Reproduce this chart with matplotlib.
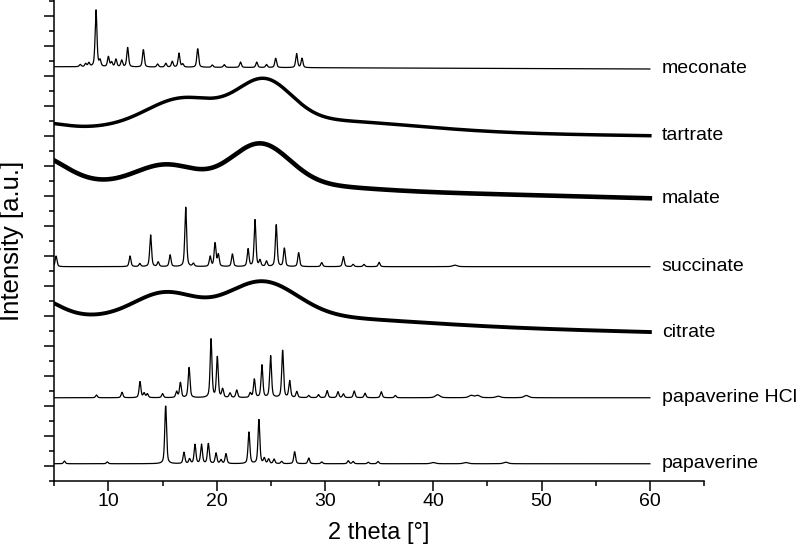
import numpy as np
import matplotlib
matplotlib.use("Agg")
import matplotlib.pyplot as plt
from matplotlib.ticker import FixedLocator

plt.rcParams['font.family'] = ['Liberation Sans', 'DejaVu Sans']

# 2 theta grid of the measurement
two_theta = np.arange(5.0, 60.0001, 0.02)

# crystalline patterns: peak positions [deg] and heights [a.u.], baseline level
papaverine_pos = [5.94, 9.9, 15.29, 16.98, 17.5, 18.0, 18.6, 19.23, 19.94, 20.4, 20.86,
                  22.98, 23.9, 24.4, 24.8, 25.3, 26.0, 27.2, 28.5, 29.7, 32.15, 32.6, 34.0, 34.9,
                  40.0, 43.0, 46.7]
papaverine_int = [0.18, 0.12, 3.87, 0.75, 0.3, 1.27, 1.27, 1.33, 0.7, 0.25, 0.66,
                  2.1, 2.93, 0.35, 0.3, 0.3, 0.15, 0.8, 0.38, 0.12, 0.2, 0.15, 0.1, 0.15,
                  0.08, 0.08, 0.1]
papaverine_base = 1.15

papaverine_hcl_pos = [8.9, 11.26, 12.92, 13.3, 13.6, 15.0, 16.3, 16.65, 17.45, 19.48, 20.06,
                      20.55, 21.23, 21.85, 23.1, 23.48, 24.18, 24.98, 26.09, 26.74, 27.4,
                      28.5, 29.4, 30.2, 31.2, 31.7, 32.7, 33.7, 35.2, 36.5,
                      40.4, 43.5, 44.1, 46.0, 48.6]
papaverine_hcl_int = [0.18, 0.36, 1.07, 0.3, 0.25, 0.27, 0.4, 1.0, 2.02, 3.89, 2.69,
                      0.56, 0.3, 0.5, 0.3, 1.22, 2.16, 2.78, 3.16, 1.11, 0.4,
                      0.15, 0.2, 0.47, 0.4, 0.25, 0.45, 0.3, 0.4, 0.15,
                      0.2, 0.15, 0.15, 0.1, 0.15]
papaverine_hcl_base = 5.55

succinate_pos = [5.17, 12.0, 12.9, 13.9, 14.6, 15.7, 17.14, 17.85, 19.4, 19.85, 20.15,
                 21.45, 22.9, 23.54, 24.0, 24.6, 25.5, 26.25, 27.57, 29.7, 31.7, 32.6,
                 33.6, 35.0, 42.0]
succinate_int = [0.71, 0.71, 0.2, 2.11, 0.3, 0.78, 3.96, 0.2, 0.67, 1.56, 0.78,
                 0.84, 1.16, 3.11, 0.4, 0.35, 2.78, 1.22, 0.93, 0.27, 0.67, 0.15,
                 0.15, 0.29, 0.1]
succinate_base = 14.29

meconate_pos = [7.4, 7.9, 8.2, 8.86, 9.23, 10.0, 10.3, 10.7, 11.23, 11.78, 13.23, 14.55,
                15.3, 15.9, 16.52, 16.87, 18.25, 19.6, 20.7, 22.2, 23.7, 24.6, 25.45,
                27.38, 27.88]
meconate_int = [0.15, 0.2, 0.25, 3.78, 0.4, 0.67, 0.3, 0.5, 0.44, 1.29, 1.16, 0.2,
                0.25, 0.38, 0.93, 0.2, 1.24, 0.15, 0.18, 0.36, 0.36, 0.2, 0.62,
                0.93, 0.62]
meconate_base = [27.62, 27.47]   # level at 5 and at 60 deg

# amorphous patterns: linear background (5 deg, 60 deg) and halos (centre, height, sigma)
tartrate_bg = [23.55, 23.02]
tartrate_halo_pos = [4.0, 16.8, 24.4, 29.0]
tartrate_halo_int = [0.3, 1.8, 2.7, 0.75]
tartrate_halo_wid = [1.8, 3.3, 2.5, 9.0]

malate_bg = [19.9, 18.85]
malate_halo_pos = [3.0, 15.3, 24.0, 27.0]
malate_halo_int = [1.9, 1.35, 2.7, 0.3]
malate_halo_wid = [2.8, 2.8, 2.7, 6.0]

citrate_bg = [10.95, 9.93]
citrate_halo_pos = [3.0, 15.2, 24.2, 28.0]
citrate_halo_int = [1.3, 1.6, 2.3, 0.45]
citrate_halo_wid = [2.2, 2.8, 3.2, 10.0]

labels = ['meconate', 'tartrate', 'malate', 'succinate', 'citrate',
          'papaverine HCl', 'papaverine']


def crystalline(pos, height, base, fwhm=0.2, eta=0.5):
    # sum of pseudo-Voigt peaks on a linear baseline
    if np.ndim(base) == 0:
        base = [base, base]
    y = np.interp(two_theta, [5.0, 60.0], base)
    for p, h in zip(pos, height):
        w = fwhm if p < 37 else fwhm * 2.5
        d = (two_theta - p) / (w / 2)
        lor = 1.0 / (1.0 + d ** 2)
        gau = np.exp(-np.log(2) * d ** 2)
        y = y + h * (eta * lor + (1 - eta) * gau)
    return y


def amorphous(bg, pos, height, width):
    y = np.interp(two_theta, [5.0, 60.0], bg)
    for p, h, s in zip(pos, height, width):
        y = y + h * np.exp(-0.5 * ((two_theta - p) / s) ** 2)
    return y


curves = [
    (crystalline(meconate_pos, meconate_int, meconate_base), 0.9),
    (amorphous(tartrate_bg, tartrate_halo_pos, tartrate_halo_int, tartrate_halo_wid), 2.5),
    (amorphous(malate_bg, malate_halo_pos, malate_halo_int, malate_halo_wid), 3.3),
    (crystalline(succinate_pos, succinate_int, succinate_base), 0.9),
    (amorphous(citrate_bg, citrate_halo_pos, citrate_halo_int, citrate_halo_wid), 2.8),
    (crystalline(papaverine_hcl_pos, papaverine_hcl_int, papaverine_hcl_base), 0.9),
    (crystalline(papaverine_pos, papaverine_int, papaverine_base), 0.9),
]

fig = plt.figure(figsize=(8, 5.56), dpi=100)
ax = fig.add_axes([0.0678, 0.1349, 0.8122, 0.8651])

for (y, lw), name in zip(curves, labels):
    ax.plot(two_theta, y, color='black', lw=lw)
    ax.text(61.1, y[-1], name, fontsize=14, va='center', ha='left')

ax.set_xlim(5, 65)
ax.set_ylim(0, 32.07)
ax.xaxis.set_major_locator(FixedLocator(np.arange(10, 61, 10)))
ax.xaxis.set_minor_locator(FixedLocator(np.arange(5, 66, 10)))
ax.yaxis.set_major_locator(FixedLocator(np.arange(1, 33, 2)))
ax.yaxis.set_minor_locator(FixedLocator(np.arange(0, 33, 2)))
ax.set_yticklabels([])

for side in ['top', 'right']:
    ax.spines[side].set_visible(False)
for side in ['left', 'bottom']:
    ax.spines[side].set_linewidth(1.1)
ax.tick_params(which='major', length=7, width=1.1, direction='out', labelsize=14, pad=2)
ax.tick_params(which='minor', length=3.5, width=1.1, direction='out')

ax.set_xlabel('2 theta [°]', fontsize=17, labelpad=8)
ax.set_ylabel('Intensity [a.u.]', fontsize=18.5, labelpad=13)

fig.savefig('out.png', dpi=100)
